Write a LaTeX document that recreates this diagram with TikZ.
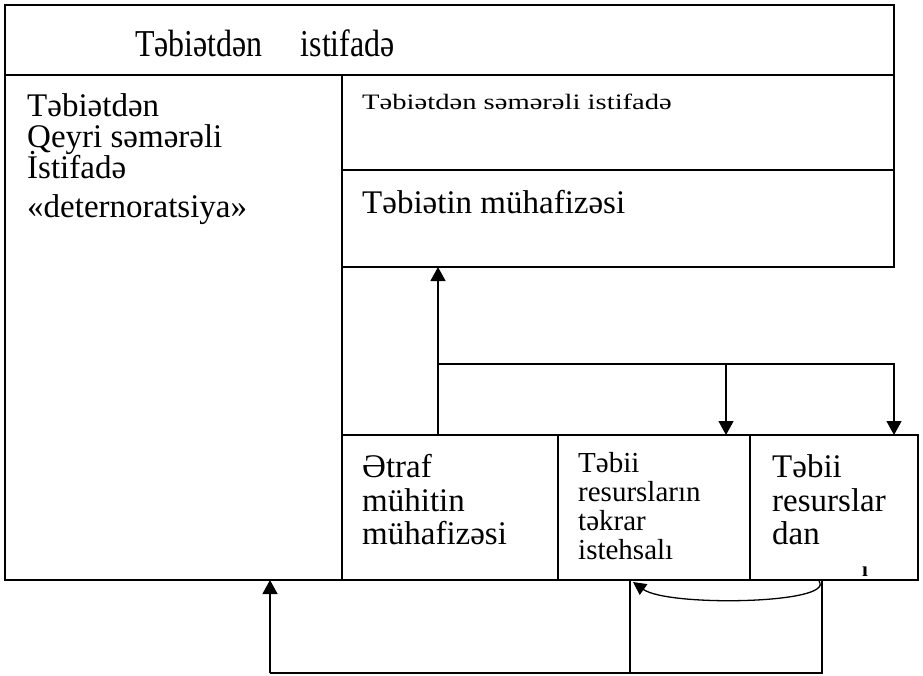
\documentclass[tikz,border=0pt]{standalone}
\usepackage{fontspec}
\setmainfont{Liberation Serif}
\newfontfamily\narrowT[FakeStretch=0.84]{Liberation Serif}
\newfontfamily\wideB[FakeStretch=1.3]{Liberation Serif}
\usetikzlibrary{arrows.meta}
\begin{document}
\begin{tikzpicture}[x=1pt,y=-1pt,
  box/.style={draw,line width=1.3pt,rectangle,inner sep=0pt,outer sep=0pt,anchor=north west},
  lbl/.style={anchor=base west,inner sep=0pt},
  big/.style={lbl,font=\fontsize{33}{35}\selectfont},
  mid/.style={lbl,font=\fontsize{29}{30}\selectfont},
  conn/.style={line width=1.3pt},
  arr/.style={conn,-{Triangle[length=14pt,width=15pt]}}
]
\useasboundingbox (0,0) rectangle (923,675);
% boxes
\node[box,minimum width=889pt,minimum height=70pt] (title) at (5,5) {};
\node[box,minimum width=337pt,minimum height=505pt] (left) at (5,75) {};
\node[box,minimum width=552pt,minimum height=95pt] (A) at (342,75) {};
\node[box,minimum width=552pt,minimum height=97pt] (B) at (342,170) {};
\node[box,minimum width=216pt,minimum height=145pt] (b1) at (342,435) {};
\node[box,minimum width=192pt,minimum height=145pt] (b2) at (558,435) {};
\node[box,minimum width=168pt,minimum height=145pt] (b3) at (750,435) {};
% texts
\node[lbl,font=\narrowT\fontsize{38}{40}\selectfont] (tt) at (135,56) {Təbiətdən\hspace{38pt}istifadə};
\node[big] (l1) at (27,116) {Təbiətdən};
\node[big] (l2) at (27,147) {Qeyri səmərəli};
\node[big] (l3) at (27,178) {İstifadə};
\node[big] (l4) at (27,217) {«deternoratsiya»};
\node[lbl,font=\wideB\fontsize{22}{26}\selectfont] (at) at (362,109) {Təbiətdən səmərəli istifadə};
\node[big] (bt) at (362,213) {Təbiətin mühafizəsi};
\node[big] (c1) at (362,477) {Ətraf};
\node[big] (c2) at (362,511) {mühitin};
\node[big] (c3) at (362,544) {mühafizəsi};
\node[mid] (d1) at (578,472) {Təbii};
\node[mid] (d2) at (578,501) {resursların};
\node[mid] (d3) at (578,530) {təkrar};
\node[mid] (d4) at (578,559) {istehsalı};
\node[big] (e1) at (772,477) {Təbii};
\node[big] (e2) at (772,511) {resurslar};
\node[big] (e3) at (772,544) {dan};
\node[lbl,font=\bfseries\fontsize{21}{22}\selectfont] (e4) at (862,576) {ı};
% connectors
\coordinate (up) at (438,364);
\coordinate (j1) at (726,364);
\coordinate (j2) at (894,364);
\draw[arr] (b1.north -| up) -- (B.south -| up);
\draw[arr] (up) -- (j2) -- (b3.north -| j2);
\draw[arr] (j1) -- (b2.north -| j1);
\coordinate (f1) at (270,673);
\coordinate (f2) at (630,673);
\coordinate (f3) at (822,673);
\draw[arr] (f1) -- (left.south -| f1);
\draw[conn] (f1) -- (f3) -- (b3.south -| f3);
\draw[conn] (f2) -- (b2.south -| f2);
\coordinate (cs) at (819,581);
\coordinate (ce) at (633,582);
\draw[conn,-{Triangle[length=13pt,width=13pt]}] (cs) .. controls (836,604) and (668,607) .. (ce);
\end{tikzpicture}
\end{document}
